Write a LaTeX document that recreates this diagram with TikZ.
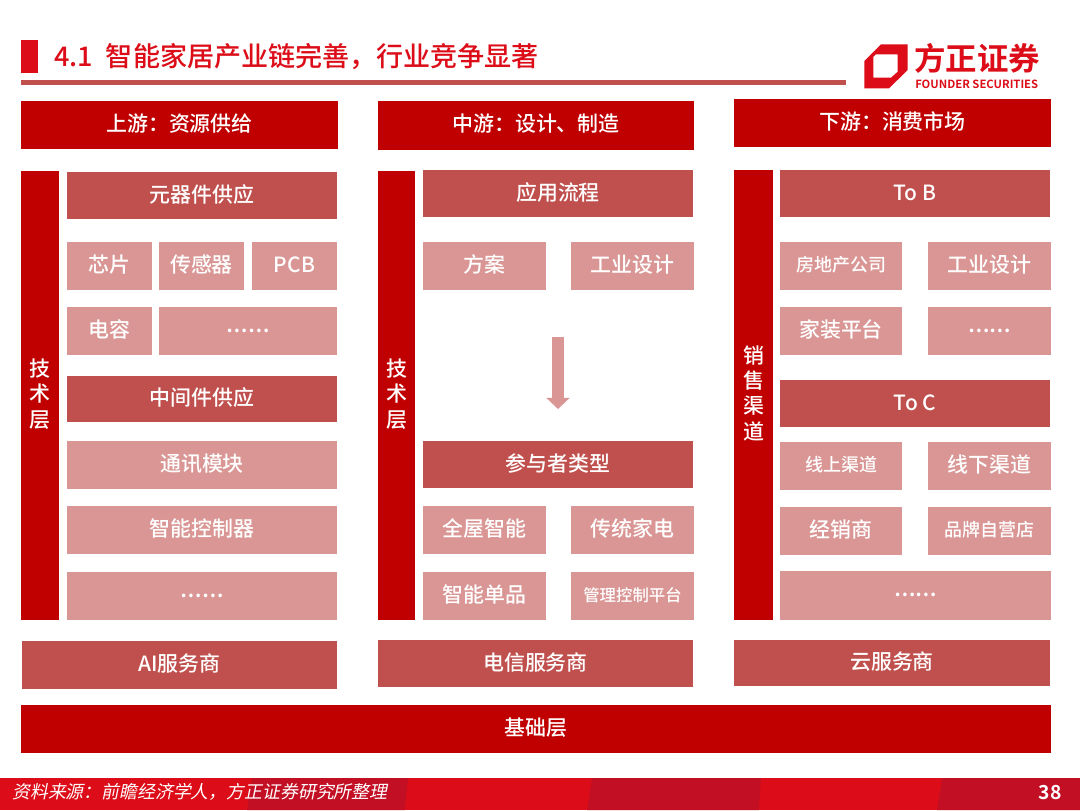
\documentclass[tikz,border=0pt]{standalone}
\usepackage{fontspec}
\setmainfont{Noto Sans CJK SC}[UprightFont={* Medium}, BoldFont={* Bold}]
\newfontfamily\slantfont[FakeSlant=0.2]{Noto Sans CJK SC}
\usetikzlibrary{arrows.meta}

\definecolor{deepred}{HTML}{C00000}
\definecolor{midred}{HTML}{C0504D}
\definecolor{palered}{HTML}{D99694}
\definecolor{brandred}{HTML}{DC0D18}
\definecolor{footdark}{HTML}{C30F24}

\tikzset{
  panelbase/.style={inner sep=0pt, text=white, font=\fontsize{15.7}{19}\selectfont, align=center},
  textline/.style={text height=13pt, text depth=3.2pt},
  sidebar/.style={panelbase, fill=deepred, text depth=4pt},
  headbar/.style={panelbase, textline, fill=deepred},
  midbox/.style={panelbase, textline, fill=midred},
  lightbox/.style={panelbase, textline, fill=palered},
  smalltext/.style={font=\fontsize{13.5}{16}\selectfont, text height=11pt, text depth=2.6pt},
  tinytext/.style={font=\fontsize{12.3}{15}\selectfont, text height=10pt, text depth=2.5pt},
}

% name, style, left, top, right, bottom, text
\newcommand{\panel}[7]{%
  \pgfmathsetmacro{\panelw}{(#5-#3)*0.75}%
  \pgfmathsetmacro{\panelh}{(#6-#4)*0.75}%
  \node[#2, minimum width=\panelw pt, minimum height=\panelh pt] (#1) at ({(#3+#5)/2},{(#4+#6)/2}) {#7};}
\newcommand{\moredots}{\raisebox{3.9pt}{\fontsize{14.5}{19}\bfseries\selectfont ……}}

\begin{document}
\begin{tikzpicture}[x=0.75pt, y=-0.75pt, line cap=butt, line join=miter]
  \useasboundingbox (0,0) rectangle (1080,810);

  % Title strip
  \fill[brandred] (21,40) rectangle (38,73);
  \node[anchor=west, inner sep=0pt, text=brandred, font=\fontsize{20.3}{24}\selectfont] (title) at (54,57) {4.1\hspace{5pt} 智能家居产业链完善，行业竞争显著};
  \fill[midred] (21,80) rectangle (846,85);

  % Logo
  \fill[brandred, even odd rule] (881,44.3) -- (907.7,44.3) -- (907.7,70) -- (889,88.3) -- (864.3,88.3) -- (864.3,61) -- cycle
    (875.7,54.3) -- (897.7,54.3) -- (897.7,71.7) -- (891,77.7) -- (873.3,77.7) -- (873.3,56.7) -- cycle;
  \node[anchor=west, inner sep=0pt, text=brandred, font=\fontsize{23.6}{26}\bfseries\selectfont] (brandcn) at (914,58.5) {方正证券};
  \node[anchor=west, inner sep=0pt, text=brandred, font=\fontsize{8.45}{10}\bfseries\selectfont] (branden) at (915,84) {FOUNDER SECURITIES};

  % Upstream
  \panel{up}{headbar}{21}{101}{338}{149}{上游：资源供给}
  \panel{uptech}{sidebar}{21}{171}{59}{620}{技\\术\\层}
  \panel{parts}{midbox}{67}{172}{337}{219}{元器件供应}
  \panel{chip}{lightbox}{67}{242}{152}{290}{芯片}
  \panel{sensor}{lightbox}{159}{242}{244}{290}{传感器}
  \panel{pcb}{lightbox}{252}{242}{337}{290}{PCB}
  \panel{capa}{lightbox}{67}{307}{152}{355}{电容}
  \panel{partsmore}{lightbox}{159}{307}{337}{355}{\moredots}
  \panel{middleware}{midbox}{67}{376}{337}{422}{中间件供应}
  \panel{comm}{lightbox}{67}{441}{337}{489}{通讯模块}
  \panel{control}{lightbox}{67}{506}{337}{554}{智能控制器}
  \panel{upmore}{lightbox}{67}{572}{337}{620}{\moredots}
  \panel{ai}{midbox}{22}{641}{337}{689}{AI服务商}

  % Midstream
  \panel{mid}{headbar}{378}{101}{694}{149.5}{中游：设计、制造}
  \panel{midtech}{sidebar}{378}{171}{415}{620}{技\\术\\层}
  \panel{flow}{midbox}{423}{170}{693}{217}{应用流程}
  \panel{plan}{lightbox}{423}{242}{546}{290}{方案}
  \panel{design}{lightbox}{571}{242}{694}{290}{工业设计}
  \panel{roles}{midbox}{423}{441}{693}{488}{参与者类型}
  \panel{whole}{lightbox}{423}{506}{546}{554}{全屋智能}
  \panel{appliance}{lightbox}{571}{506}{694}{554}{传统家电}
  \panel{single}{lightbox}{423}{572}{546}{620}{智能单品}
  \panel{platform}{lightbox,tinytext}{571}{572}{694}{620}{管理控制平台}
  \panel{telecom}{midbox}{378}{640}{693}{687}{电信服务商}
  \coordinate (flowtop) at (558,337);
  \coordinate (flowend) at (558,409);
  \draw[palered, line width=9pt, -{Triangle[length=8.4pt, width=17.2pt]}] (flowtop) -- (flowend);

  % Downstream
  \panel{down}{headbar}{734}{99}{1051}{147}{下游：消费市场}
  \panel{sales}{sidebar}{734}{170}{773}{620}{销\\售\\渠\\道}
  \panel{tob}{midbox}{780}{170}{1050}{217}{To B}
  \panel{estate}{lightbox,smalltext}{780}{242}{902}{290}{房地产公司}
  \panel{design2}{lightbox}{928}{242}{1051}{290}{工业设计}
  \panel{decor}{lightbox}{780}{307}{902}{355}{家装平台}
  \panel{bmore}{lightbox}{928}{307}{1051}{355}{\moredots}
  \panel{toc}{midbox}{780}{380}{1050}{427}{To C}
  \panel{online}{lightbox,smalltext}{780}{442}{902}{490}{线上渠道}
  \panel{offline}{lightbox}{928}{442}{1051}{490}{线下渠道}
  \panel{dealer}{lightbox}{780}{507}{902}{555}{经销商}
  \panel{ownstore}{lightbox,smalltext}{928}{507}{1051}{555}{品牌自营店}
  \panel{cmore}{lightbox}{780}{571}{1051}{620}{\moredots}
  \panel{cloud}{midbox}{734}{640}{1050}{686}{云服务商}

  \panel{base}{headbar}{21}{705}{1051}{753}{基础层}

  % Footer band
  \fill[brandred] (0,778) rectangle (1080,810);
  \fill[footdark] (252,778) -- (408,778) -- (405,810) -- (247,810) -- cycle;
  \fill[footdark] (592,778) -- (761,778) -- (759,810) -- (587,810) -- cycle;
  \fill[footdark] (942,778) -- (1080,778) -- (1080,810) -- (937,810) -- cycle;
  \node[anchor=west, inner sep=0pt, text=white, font=\fontsize{13.4}{18}\slantfont] (source) at (12,792) {资料来源：前瞻经济学人，方正证券研究所整理};
  \node[anchor=east, inner sep=0pt, text=white, font=\fontsize{14.5}{18}\bfseries\selectfont] (pageno) at (1062,793) {38};
\end{tikzpicture}
\end{document}
